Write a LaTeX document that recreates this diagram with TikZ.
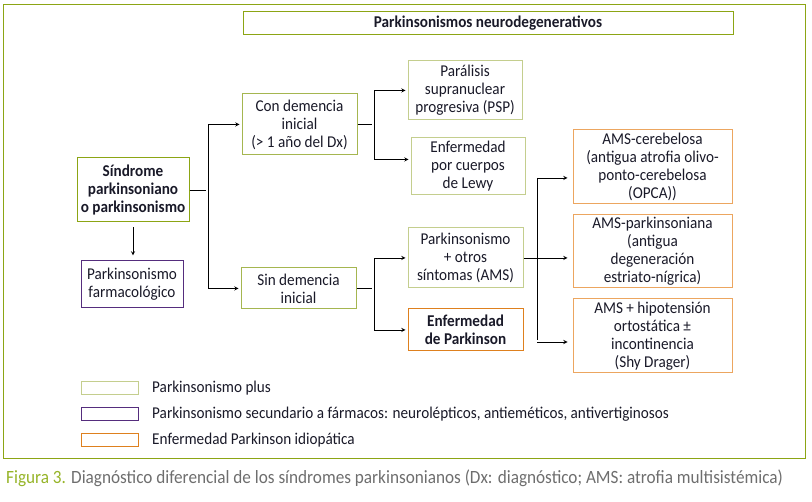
\documentclass[tikz,border=0pt]{standalone}
\usepackage{fontspec}
\setmainfont{Carlito}[FakeStretch=0.92]
\usetikzlibrary{calc}
\definecolor{frameolive}{RGB}{140,165,20}
\definecolor{plusdark}{RGB}{165,182,80}
\definecolor{pluslight}{RGB}{196,206,142}
\definecolor{drugpurple}{RGB}{85,45,125}
\definecolor{pdorange}{RGB}{222,128,30}
\definecolor{amsorange}{RGB}{236,166,96}
\definecolor{captiongreen}{RGB}{150,180,40}
\definecolor{captiongray}{RGB}{110,110,110}
\definecolor{textcol}{RGB}{25,25,40}
\tikzset{>=stealth,
  box/.style={draw, line width=1pt, align=center, inner xsep=1pt, inner ysep=0pt, text=textcol,
    font=\fontsize{16.5}{18}\selectfont},
  boldbox/.style={box, font=\fontsize{16.5}{18}\selectfont\bfseries},
  keybox/.style={draw, line width=1pt, inner sep=0pt, minimum width=57pt, minimum height=13pt},
  keytext/.style={anchor=west, inner sep=0pt, text=textcol, font=\fontsize{16.5}{18}\selectfont},
  link/.style={line width=0.9pt, shorten >=2pt}
}

\begin{document}
\begin{tikzpicture}[x=1pt,y=-1pt]
  \useasboundingbox (0,0) rectangle (812,502);
  \draw[frameolive, line width=1pt] (3,4.5) rectangle (805,459);

  \node[boldbox, draw=frameolive, minimum width=490pt, minimum height=23pt] (title) at (488,23.5) {Parkinsonismos neurodegenerativos};

  \node[boldbox, draw=frameolive, minimum width=112pt, minimum height=64pt] (sind) at (133,190) {Síndrome\\parkinsoniano\\o parkinsonismo};
  \node[box, draw=drugpurple, minimum width=102pt, minimum height=47pt] (farm) at (132,284.5) {Parkinsonismo\\farmacológico};

  \node[box, draw=plusdark, minimum width=115pt, minimum height=61pt] (con) at (299.5,124.5) {Con demencia\\inicial\\(> 1 año del Dx)};
  \node[box, draw=plusdark, minimum width=115pt, minimum height=41pt] (sin) at (298.5,288.5) {Sin demencia\\inicial};

  \node[box, draw=pluslight, minimum width=114pt, minimum height=59pt] (psp) at (465,90.5) {Parálisis\\supranuclear\\progresiva (PSP)};
  \node[box, draw=pluslight, minimum width=114pt, minimum height=57pt] (lewy) at (468,166.5) {Enfermedad\\por cuerpos\\de Lewy};
  \node[box, draw=pluslight, minimum width=115pt, minimum height=60pt] (ams) at (465.5,258) {Parkinsonismo\\+ otros\\síntomas (AMS)};
  \node[boldbox, draw=pdorange, minimum width=115pt, minimum height=42pt] (ep) at (465.5,330) {Enfermedad\\de Parkinson};

  \node[box, draw=amsorange, minimum width=159pt, minimum height=74pt] (amsc) at (652.5,167) {AMS-cerebelosa\\(antigua atrofia olivo-\\ponto-cerebelosa\\(OPCA))};
  \node[box, draw=amsorange, minimum width=159pt, minimum height=73pt] (amsp) at (652.5,251.5) {AMS-parkinsoniana\\(antigua\\degeneración\\estriato-nígrica)};
  \node[box, draw=amsorange, minimum width=159pt, minimum height=74pt] (amsh) at (652.5,336) {AMS + hipotensión\\ortostática ±\\incontinencia\\(Shy Drager)};

  \draw[link, ->, shorten <=5pt, shorten >=5pt] (sind.south) -- (sind.south |- farm.north);

  \coordinate (f1) at (208,190);
  \draw[link] (sind.east) -- (f1);
  \draw[link, ->] (f1) |- (con.west);
  \draw[link, ->] (f1) |- (sin.west);

  \coordinate (f2) at (374,124.5);
  \coordinate (lewyin) at ([yshift=7pt]lewy.west);
  \draw[link] (con.east) -- (f2);
  \draw[link, ->] (f2) |- (psp.west);
  \draw[link, ->] (f2) |- (lewyin);

  \coordinate (f3) at (374,288.5);
  \draw[link] (sin.east) -- (f3);
  \draw[link, ->] (f3) |- (ams.west);
  \draw[link, ->] (f3) |- (ep.west);

  \coordinate (f4) at (537,258);
  \coordinate (amscin) at ([yshift=-11pt]amsc.west);
  \coordinate (amshin) at ([yshift=-6pt]amsh.west);
  \draw[link, ->, shorten >=5pt] (ams.east) -- (ams.east -| amsp.west);
  \draw[link] (f4 |- amscin) -- (f4 |- amshin);
  \draw[link, ->, shorten >=5pt] (f4 |- amscin) -- (amscin);
  \draw[link, ->, shorten >=5pt] (f4 |- amshin) -- (amshin);

  \node[keybox, draw=pluslight] (key1) at (109.5,388) {};
  \node[keytext] (key1t) at (152,388) {Parkinsonismo plus};
  \node[keybox, draw=drugpurple] (key2) at (109.5,414.5) {};
  \node[keytext] (key2t) at (152,414.5) {Parkinsonismo secundario a fármacos: neurolépticos, antieméticos, antivertiginosos};
  \node[keybox, draw=pdorange] (key3) at (109.5,440) {};
  \node[keytext] (key3t) at (152,440) {Enfermedad Parkinson idiopática};

  \node[anchor=west, inner sep=0pt, text=captiongray, font=\fontsize{18.7}{21}\selectfont] (cap) at (6,478) {\textcolor{captiongreen}{Figura 3.} Diagnóstico diferencial de los síndromes parkinsonianos (Dx: diagnóstico; AMS: atrofia multisistémica)};
\end{tikzpicture}
\end{document}
